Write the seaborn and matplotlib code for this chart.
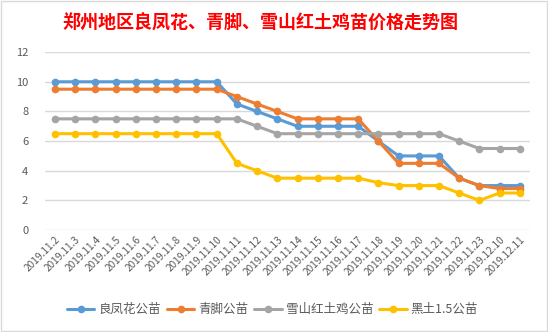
import matplotlib
matplotlib.use("Agg")
import matplotlib.pyplot as plt
import seaborn as sns
import pandas as pd

dates = ["2019.11.2", "2019.11.3", "2019.11.4", "2019.11.5", "2019.11.6", "2019.11.7",
         "2019.11.8", "2019.11.9", "2019.11.10", "2019.11.11", "2019.11.12", "2019.11.13",
         "2019.11.14", "2019.11.15", "2019.11.16", "2019.11.17", "2019.11.18", "2019.11.19",
         "2019.11.20", "2019.11.21", "2019.11.22", "2019.11.23", "2019.12.10", "2019.12.11"]

liangfenghua = [10, 10, 10, 10, 10, 10, 10, 10, 10, 8.5, 8, 7.5, 7, 7, 7, 7, 6, 5, 5, 5, 3.5, 3, 3, 3]
qingjiao = [9.5, 9.5, 9.5, 9.5, 9.5, 9.5, 9.5, 9.5, 9.5, 9, 8.5, 8, 7.5, 7.5, 7.5, 7.5, 6, 4.5, 4.5, 4.5, 3.5, 3, 2.8, 2.8]
xueshan = [7.5, 7.5, 7.5, 7.5, 7.5, 7.5, 7.5, 7.5, 7.5, 7.5, 7, 6.5, 6.5, 6.5, 6.5, 6.5, 6.5, 6.5, 6.5, 6.5, 6, 5.5, 5.5, 5.5]
heitu = [6.5, 6.5, 6.5, 6.5, 6.5, 6.5, 6.5, 6.5, 6.5, 4.5, 4, 3.5, 3.5, 3.5, 3.5, 3.5, 3.2, 3, 3, 3, 2.5, 2, 2.5, 2.5]

series_names = ["良凤花公苗", "青脚公苗", "雪山红土鸡公苗", "黑土1.5公苗"]
colors = ["#5B9BD5", "#ED7D31", "#A5A5A5", "#FFC000"]

rows = []
for name, vals in zip(series_names, [liangfenghua, qingjiao, xueshan, heitu]):
    for i, v in enumerate(vals):
        rows.append({"idx": i, "value": v, "series": name})
df = pd.DataFrame(rows)

sns.set_theme(style="white")
plt.rcParams['font.family'] = ['Noto Sans CJK SC', 'DejaVu Sans']

fig = plt.figure(figsize=(5.48, 3.32), dpi=100)
ax = fig.add_axes([0.082, 0.307, 0.885, 0.536])

sns.lineplot(data=df, x="idx", y="value", hue="series", palette=colors,
             hue_order=series_names, marker="o", markersize=5.5, markeredgewidth=0,
             linewidth=2.2, ax=ax, legend=True)

ax.set_xlim(-0.5, len(dates) - 0.5)
ax.set_ylim(0, 12)
ax.set_yticks(range(0, 13, 2))
ax.set_xticks(range(len(dates)))
ax.set_xticklabels(dates, rotation=45, ha="right", rotation_mode="anchor",
                   fontsize=7.3, color="#595959")
ax.tick_params(axis="y", labelsize=8, labelcolor="#595959", length=0, pad=12)
ax.tick_params(axis="x", length=0, pad=3)
ax.grid(axis="y", color="#D9D9D9", linewidth=1)
for s in ax.spines.values():
    s.set_visible(False)
ax.set_xlabel("")
ax.set_ylabel("")

handles, labels = ax.get_legend_handles_labels()
ax.legend(handles, labels, loc="center", bbox_to_anchor=(0.497, 0.067),
          bbox_transform=fig.transFigure, ncol=4, frameon=False, fontsize=9,
          handlelength=2.2, columnspacing=0.5, handletextpad=0.3,
          labelcolor="#595959")

fig.text(0.475, 0.93, "郑州地区良凤花、青脚、雪山红土鸡苗价格走势图", ha="center", va="center",
         fontsize=13, fontweight="bold", color="#FF0000")

fig.patches.append(plt.Rectangle((0.002, 0.003), 0.996, 0.994, transform=fig.transFigure,
                                 fill=False, edgecolor="#D9D9D9", linewidth=1))

fig.savefig("out.png", dpi=100)
